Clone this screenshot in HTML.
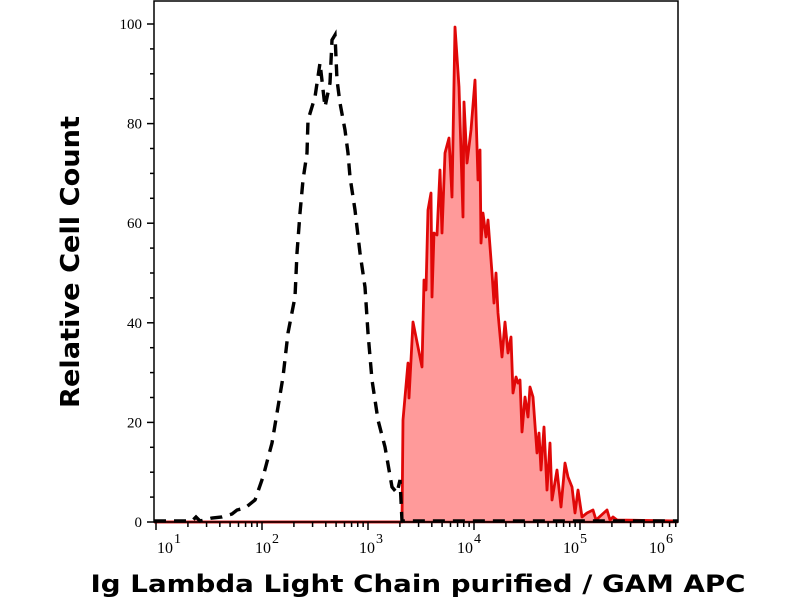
<!DOCTYPE html>
<html><head><meta charset="utf-8"><style>
html,body{margin:0;padding:0;background:#fff;width:800px;height:600px;overflow:hidden}
svg{display:block}
</style></head><body>
<svg id="s" width="800" height="600" xmlns="http://www.w3.org/2000/svg">
<rect width="800" height="600" fill="#fff"/>
<polygon id="fill" fill="#ff9a9a" stroke="none"/>
<line x1="154" y1="522" x2="678" y2="522" stroke="#a01010" stroke-width="2.5"/>
<polyline id="red" fill="none" stroke="#e00808" stroke-width="2.8" stroke-linejoin="round"/>
<polyline id="blk" fill="none" stroke="#000" stroke-width="3.4" stroke-dasharray="12,8"/>
<rect x="154" y="1" width="524" height="521" fill="none" stroke="#000" stroke-width="1.5"/>
<g id="ticks" stroke="#000" stroke-width="1.5"></g>
<g id="lbl" font-family="Liberation Serif, serif" font-size="14" fill="#000"></g>
<text x="79" y="262" transform="rotate(-90 79 262)" text-anchor="middle" font-family="DejaVu Sans, sans-serif" font-weight="bold" font-size="26" textLength="292" lengthAdjust="spacingAndGlyphs">Relative Cell Count</text>
<text x="418" y="592" text-anchor="middle" font-family="DejaVu Sans, sans-serif" font-weight="bold" font-size="24" textLength="655" lengthAdjust="spacingAndGlyphs">Ig Lambda Light Chain purified / GAM APC</text>
</svg>
<script>
var red=[[154,522],[402,522],[403,420],[408,363],[409,398],[413,322],[418,347],[422,367],[424,280],[426,290],[428,210],[431,193],[432,297],[434,233],[437,235],[440,170],[442,233],[445,153],[449,138],[452,197],[455,27],[459,87],[463,217],[464,102],[467,163],[471,130],[475,80],[478,180],[480,150],[481,243],[483,213],[486,237],[488,220],[492,273],[494,303],[496,273],[498,313],[502,357],[505,322],[508,353],[511,337],[513,393],[516,377],[518,383],[520,380],[522,432],[525,397],[528,417],[530,387],[533,397],[537,453],[539,433],[541,470],[544,427],[547,490],[550,443],[552,500],[557,470],[561,507],[565,463],[568,477],[572,487],[575,513],[578,490],[582,517],[587,513],[593,510],[596,520],[607,510],[610,520],[613,517],[617,520],[678,521]];
var blk=[[154,521],[192,521],[196,517],[200,521],[212,518],[222,517],[232,514],[237,510],[245,508],[255,500],[263,477],[272,443],[277,413],[283,377],[288,333],[295,297],[297,253],[300,213],[303,180],[307,153],[308,120],[315,97],[320,63],[325,107],[330,83],[332,40],[335,35],[337,80],[340,103],[345,130],[348,153],[350,177],[355,210],[360,253],[365,287],[368,333],[372,380],[378,420],[385,447],[392,487],[397,493],[400,480],[402,521],[678,521]];
function pts(a){return a.map(function(p){return p.join(',')}).join(' ')}
document.getElementById('red').setAttribute('points',pts(red));
document.getElementById('blk').setAttribute('points',pts(blk));
document.getElementById('fill').setAttribute('points',pts(red)+' 678,522 154,522');
var NS='http://www.w3.org/2000/svg',t=document.getElementById('ticks'),l=document.getElementById('lbl');
function ln(x1,y1,x2,y2){var e=document.createElementNS(NS,'line');e.setAttribute('x1',x1);e.setAttribute('y1',y1);e.setAttribute('x2',x2);e.setAttribute('y2',y2);t.appendChild(e);}
function tx(x,y,s,sz,anchor){var e=document.createElementNS(NS,'text');e.setAttribute('x',x);e.setAttribute('y',y);if(sz)e.setAttribute('font-size',sz);if(anchor)e.setAttribute('text-anchor',anchor);e.textContent=s;l.appendChild(e);}
for(var v=0;v<=100;v+=5){var y=522-4.98*v;if(v%20==0){ln(147,y,154,y);tx(142,y+5,String(v),15,'end');}else ln(150,y,154,y);}
var D=106,x0=156;
for(var d=0;d<=5;d++){for(var m=1;m<10;m++){var x=x0+(d+Math.log10(m))*D;if(x<154||x>678)continue;if(m==1)ln(x,522,x,530);else ln(x,522,x,527);}}
var labs=[[170,1],[268,2],[372,3],[470,4],[576,5],[662,6]];
labs.forEach(function(a){tx(a[0]-13,553,'10',16);tx(a[0]+4,543,String(a[1]),14);});
</script>
</body></html>
